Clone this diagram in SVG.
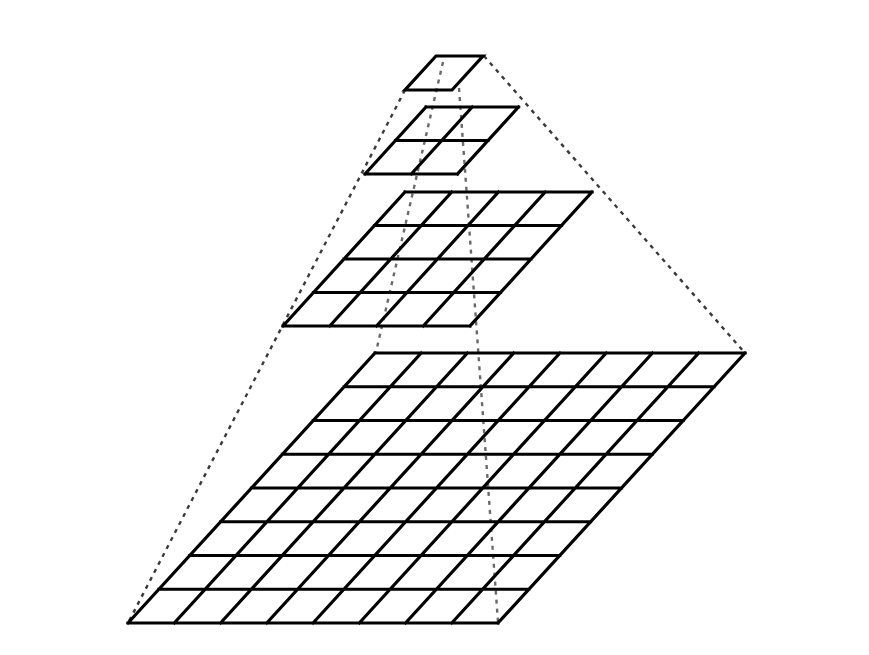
<svg xmlns="http://www.w3.org/2000/svg" width="869" height="655" viewBox="0 0 869 655">
<style>
.grid{fill:none;stroke:#000;stroke-width:3.2;stroke-linecap:square;stroke-linejoin:miter}
.dash{fill:none;stroke:#3a3a3a;stroke-width:2.4;stroke-dasharray:4 5}
.inner{stroke:#6a6a6a}
</style>
<rect width="869" height="655" fill="#fff"/>
<g id="connectors">
<line class="dash" x1="484" y1="56" x2="745" y2="353"/>
<line class="dash" x1="405" y1="90" x2="128" y2="623"/>
<line class="dash inner" x1="443" y1="62" x2="376" y2="352"/>
<line class="dash inner" x1="459" y1="88" x2="498" y2="622"/>
</g>
<g id="level-1x1">
<path class="grid" d="M436,56 H483 L452,90 H405 Z"/>
</g>
<g id="level-2x2">
<path class="grid" d="M426,107 H518.5 M395.5,140.5 H488 M365,174 H457.5 M426,107 L365,174 M472.25,107 L411.25,174 M518.5,107 L457.5,174"/>
</g>
<g id="level-4x4">
<path class="grid" d="M405,192 H592 M374.5,225.5 H561.5 M344,259 H531 M313.5,292.5 H500.5 M283,326 H470 M405,192 L283,326 M451.75,192 L329.75,326 M498.5,192 L376.5,326 M545.25,192 L423.25,326 M592,192 L470,326"/>
</g>
<g id="level-8x8">
<path class="grid" d="M375,353 H745 M344.125,386.75 H714.125 M313.25,420.5 H683.25 M282.375,454.25 H652.375 M251.5,488 H621.5 M220.625,521.75 H590.625 M189.75,555.5 H559.75 M158.875,589.25 H528.875 M128,623 H498 M375,353 L128,623 M421.25,353 L174.25,623 M467.5,353 L220.5,623 M513.75,353 L266.75,623 M560,353 L313,623 M606.25,353 L359.25,623 M652.5,353 L405.5,623 M698.75,353 L451.75,623 M745,353 L498,623"/>
</g>
</svg>
